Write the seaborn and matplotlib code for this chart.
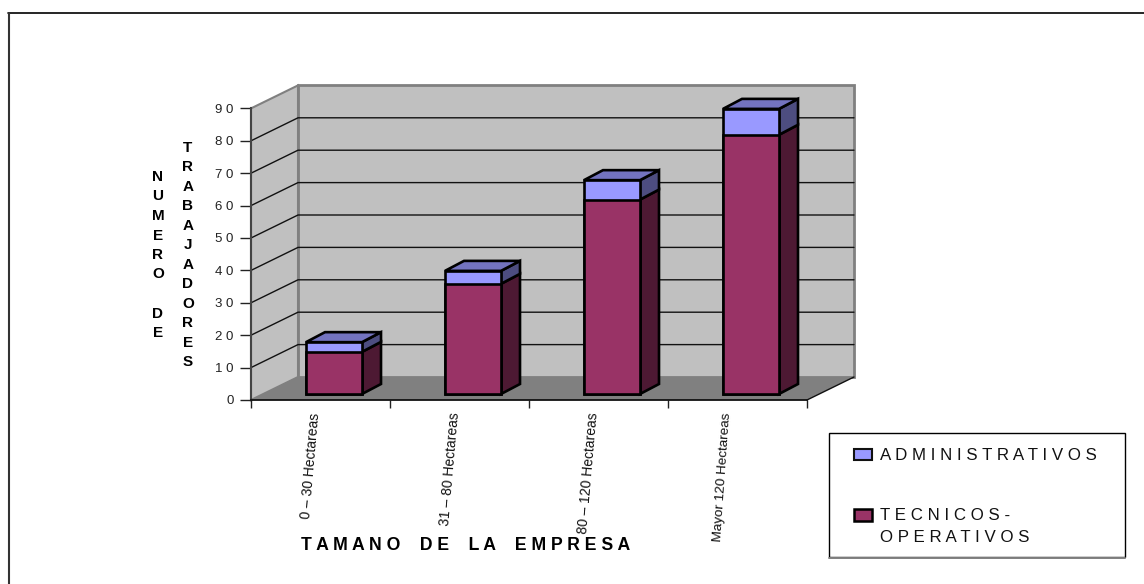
import matplotlib
matplotlib.use("Agg")
import matplotlib.pyplot as plt
from matplotlib.lines import Line2D
from matplotlib.patches import Rectangle
import pandas as pd
import seaborn as sns

# Data
categories = ["0 – 30 Hectareas", "31 – 80 Hectareas", "80 – 120 Hectareas", "Mayor 120 Hectareas"]
tecnicos = [13, 34, 60, 80]
administrativos = [3, 4, 6, 8]
ytick_values = [0, 10, 20, 30, 40, 50, 60, 70, 80, 90]
ytick_labels = ["0", "1 0", "2 0", "3 0", "4 0", "5 0", "6 0", "7 0", "8 0", "9 0"]

W, H = 1144, 584
WALL_DX, WALL_DY = 47 / 139, 23 / 3.24   # depth of the fake 3d box
SHIFT_DX, SHIFT_DY = 13.5 / 139, 6 / 3.24   # bars stand a bit into the floor
BAR_DX, BAR_DY = 19 / 139, 10 / 3.24

PURPLE, PURPLE_SIDE = "#993366", "#4D1933"
LILAC, LILAC_TOP, LILAC_SIDE = "#9999FF", "#7373BF", "#4D4D80"
WALL, FLOOR = "#C0C0C0", "#808080"

df = pd.DataFrame({"Tamano": categories, "Tecnicos": tecnicos, "Admin": administrativos})
df["Total"] = df["Tecnicos"] + df["Admin"]

sns.set_theme(style="white")
plt.rcParams["font.family"] = ["Liberation Sans", "DejaVu Sans"]

fig = plt.figure(figsize=(W / 100, H / 100), dpi=100)
ax = fig.add_axes([251 / W, 1 - 400 / H, 556 / W, 291.6 / H])
ax.patch.set_alpha(0)


def px_rect(x0, y0, x1, y1, **kw):
    # rectangle on the figure, given in image pixels
    r = Rectangle((x0 / W, 1 - y1 / H), (x1 - x0) / W, (y1 - y0) / H, transform=fig.transFigure, **kw)
    fig.add_artist(r)


def px_line(x0, y0, x1, y1, **kw):
    fig.add_artist(Line2D([x0 / W, x1 / W], [1 - y0 / H, 1 - y1 / H], transform=fig.transFigure, **kw))


# walls and floor
xl, xr = -0.5, 3.5
top = 90
ax.fill([xl + WALL_DX, xr + WALL_DX, xr + WALL_DX, xl + WALL_DX],
        [WALL_DY, WALL_DY, top + WALL_DY, top + WALL_DY],
        facecolor=WALL, edgecolor=FLOOR, lw=2, clip_on=False, zorder=0)
ax.fill([xl, xl + WALL_DX, xl + WALL_DX, xl], [0, WALL_DY, top + WALL_DY, top],
        facecolor=WALL, edgecolor=FLOOR, lw=1.5, clip_on=False, zorder=0)
ax.fill([xl, xr, xr + WALL_DX, xl + WALL_DX], [0, 0, WALL_DY, WALL_DY],
        facecolor=FLOOR, edgecolor="none", clip_on=False, zorder=0.5)
for v in ytick_values[1:-1]:
    ax.plot([xl, xl + WALL_DX, xr + WALL_DX], [v, v + WALL_DY, v + WALL_DY],
            color="#111111", lw=1, clip_on=False, zorder=0.7)
ax.plot([xr, xr + WALL_DX], [0, WALL_DY], color="#111111", lw=1, clip_on=False, zorder=0.7)

# front faces, stacked by overdrawing
sns.barplot(data=df, x="Tamano", y="Total", color=LILAC, saturation=1, width=56 / 139,
            edgecolor="black", linewidth=1.9, ax=ax, zorder=3)
sns.barplot(data=df, x="Tamano", y="Tecnicos", color=PURPLE, saturation=1, width=56 / 139,
            edgecolor="black", linewidth=1.9, ax=ax, zorder=3.1)

bars = [p for c in ax.containers for p in c]
for p in bars:
    p.set_x(p.get_x() + SHIFT_DX)
    p.set_y(SHIFT_DY)
    p.set_clip_on(False)

# top and side faces follow the shifted bars
for i, p in enumerate(bars[:len(categories)]):
    x0, x1 = p.get_x(), p.get_x() + p.get_width()
    y_base = SHIFT_DY
    y_mid = y_base + tecnicos[i]
    y_top = y_base + tecnicos[i] + administrativos[i]
    style = dict(edgecolor="black", lw=1.9, clip_on=False, zorder=2.5)
    ax.fill([x1, x1 + BAR_DX, x1 + BAR_DX, x1], [y_base, y_base + BAR_DY, y_mid + BAR_DY, y_mid],
            facecolor=PURPLE_SIDE, **style)
    ax.fill([x1, x1 + BAR_DX, x1 + BAR_DX, x1], [y_mid, y_mid + BAR_DY, y_top + BAR_DY, y_top],
            facecolor=LILAC_SIDE, **style)
    ax.fill([x0, x1, x1 + BAR_DX, x0 + BAR_DX], [y_top, y_top, y_top + BAR_DY, y_top + BAR_DY],
            facecolor=LILAC_TOP, **style)

ax.set_xlim(xl, xr)
ax.set_ylim(0, top)
ax.set_xlabel("")
ax.set_ylabel("")
ax.set_yticks(ytick_values, ytick_labels, fontsize=9.5, color="#222222")
ax.set_xticks([-0.5, 0.5, 1.5, 2.5, 3.5], [""] * 5)
ax.tick_params(axis="y", length=8, width=1, color="#222222", pad=4.5, left=True)
ax.tick_params(axis="x", length=5.5, width=1, color="#222222", bottom=True)
for s in ["top", "right"]:
    ax.spines[s].set_visible(False)
ax.spines["left"].set_color("#444444")
ax.spines["left"].set_linewidth(1.5)
ax.spines["bottom"].set_color("#111111")
ax.spines["bottom"].set_linewidth(1.3)

# category labels are slightly tilted in the source
label_dx = [-10, -10, -10, -15]
for i, lab in enumerate(categories):
    small = i == 3
    ax.annotate(lab, (i, 0), xytext=(label_dx[i], -12), textcoords="offset pixels",
                rotation=86 if small else 85, ha="center", va="top",
                fontsize=9.7 if small else 10,
                color="#111111", annotation_clip=False)

# stacked axis titles
fig.text(158 / W, 1 - 255 / H, "\n".join("NUMERO DE"), ha="center", va="center",
         fontsize=11, fontweight="bold", color="black", linespacing=1.5)
fig.text(188 / W, 1 - 255 / H, "\n".join("TRABAJADORES"), ha="center", va="center",
         fontsize=11, fontweight="bold", color="black", linespacing=1.5)
fig.text(466 / W, 1 - 545 / H, "T A M A N O    D E    L A    E M P R E S A", ha="center", va="center",
         fontsize=12.7, fontweight="bold", color="black")

# legend box, drawn by hand so the swatch sits on the first line of the wrapped label
px_rect(829, 433, 1125, 557, facecolor="white", edgecolor="black", lw=1)
px_line(829, 558, 1125, 558, color=FLOOR, lw=1.4)
px_rect(854, 449, 872, 460, facecolor=LILAC, edgecolor="#111111", lw=1.5)
px_rect(854, 509, 872, 521, facecolor=PURPLE, edgecolor="black", lw=1.8)
legend_font = dict(fontsize=12.2, color="#111111", va="center", ha="left")
fig.text(880 / W, 1 - 455 / H, "A D M I N I S T R A T I V O S", **legend_font)
fig.text(880 / W, 1 - 515 / H, "T E C N I C O S -", **legend_font)
fig.text(880 / W, 1 - 538 / H, "O P E R A T I V O S", **legend_font)

# outer chart frame only shows on the top and left in the source
px_line(8, 12.5, W, 12.5, color="black", lw=1.2)
px_line(8.5, 12.5, 8.5, H, color="#333333", lw=1.5)

fig.savefig("out.png", dpi=100)
